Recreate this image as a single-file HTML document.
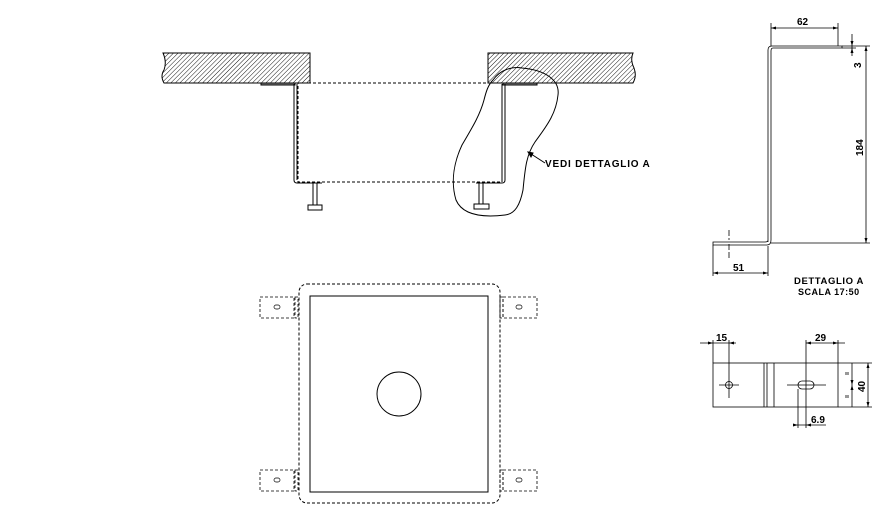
<!DOCTYPE html>
<html><head><meta charset="utf-8"><style>
html,body{margin:0;padding:0;background:#fff;}
svg{display:block;}
text{font-family:"Liberation Sans",sans-serif;font-weight:bold;fill:#000;}
</style></head><body>
<svg width="891" height="530" viewBox="0 0 891 530" xmlns="http://www.w3.org/2000/svg">
<defs>
<pattern id="h" width="3.2" height="3.2" patternUnits="userSpaceOnUse" patternTransform="rotate(45)">
<line x1="0" y1="0" x2="0" y2="3.2" stroke="#000" stroke-width="0.9"/>
</pattern>
</defs>
<g fill="none" stroke="#000" stroke-width="1">
<path d="M163,53 L310,53 L310,83 L164,83 Q160,76 164,70 Q167,62 163,53 Z" fill="url(#h)"/>
<path d="M488,53 L633,53 Q630,60 634,68 Q637,76 633,83 L488,83 Z" fill="url(#h)"/>
<rect x="261" y="83" width="34" height="2" fill="#888"/>
<rect x="503" y="83" width="34" height="2" fill="#888"/>
<rect x="298" y="83" width="204" height="99" stroke-dasharray="3,2"/>
<path d="M294,84 L294,180 Q294,183 297,183 L322,183 M297,84 L297,180"/>
<path d="M505,84 L505,180 Q505,183 502,183 L476,183 M502,84 L502,180"/>
<path d="M313,183 L313,205 M317,183 L317,205 M308,205 L322,205 L322,210 L308,210 Z"/>
<path d="M479,183 L479,204 M483,183 L483,204 M474,204 L489,204 L489,209 L474,209 Z"/>
<path d="M493,80 C500,70 512,66 522,68 C545,70 560,80 558,95 C556,115 545,128 535,142 C526,155 525,170 523,190 C520,205 515,214 505,215 C480,218 462,214 456,200 C450,180 455,160 462,145 C472,128 480,115 484,100 C486,92 488,85 493,80 Z"/>
<path d="M528,152 L545,163"/>
<path d="M528,152 L533,153 L531,157 Z" fill="#000"/>
</g>
<text x="545" y="167" font-size="10" letter-spacing="0.8">VEDI DETTAGLIO A</text>

<g fill="none" stroke="#000" stroke-width="0.8">
<path d="M768,242 L768,50 Q768,46 772,46 L842,46 L842,48 L773,48 Q771,48 771,51 L771,240 Q771,245 767,245 L713,245 L713,242 L765,242 Q768,242 768,240"/>
<path d="M771,46 L771,23 M838,46 L838,23 M771,28 L838,28"/>
<path d="M842,46 L870,46 M842,48 L856,48 M852,34 L852,56"/>
<path d="M771,243 L870,243 M866,46 L866,243"/>
<path d="M713,245 L713,276 M768,246 L768,276 M713,273 L768,273"/>
<path d="M729,230 L729,240 M729,244 L729,258" stroke-dasharray="6,2"/>
</g>
<g fill="#000">
<path d="M771,28 l5,-1.5 v3 Z M838,28 l-5,-1.5 v3 Z"/>
<path d="M866,46 l-1.5,5 h3 Z M866,243 l-1.5,-5 h3 Z"/>
<path d="M852,46 l-1.5,-5 h3 Z M852,48 l-1.5,5 h3 Z"/>
<path d="M713,273 l5,-1.5 v3 Z M768,273 l-5,-1.5 v3 Z"/>
</g>
<text x="797" y="25" font-size="10">62</text>
<text x="0" y="0" font-size="10" transform="translate(861,68) rotate(-90)">3</text>
<text x="0" y="0" font-size="10" transform="translate(863,156) rotate(-90)">184</text>
<text x="733" y="271" font-size="10">51</text>
<text x="794" y="284" font-size="9.5" letter-spacing="0.6">DETTAGLIO  A</text>
<text x="798" y="295" font-size="9" letter-spacing="0.5">SCALA  17:50</text>

<g fill="none" stroke="#000" stroke-width="0.8">
<rect x="713" y="363" width="125" height="44"/>
<path d="M764,363 L764,407 M767,363 L767,407 M774,363 L774,407"/>
<circle cx="729" cy="385" r="3.5"/>
<rect x="798" y="381" width="16" height="8" rx="4"/>
<path d="M719,385 L739,385 M729,340 L729,398 M787,385 L826,385 M806,340 L806,428"/>
<path d="M713,363 L713,340 M700,343 L736,343"/>
<path d="M838,363 L838,340 M806,343 L845,343"/>
<path d="M838,363 L872,363 M838,407 L872,407 M852,363 L852,407 M868,363 L868,407"/>
<path d="M798,389 L798,428 M796,425 L826,425"/>
<path d="M846,372 v3 M848,372 v3 M846,395 v3 M848,395 v3"/>
</g>
<g fill="#000">
<path d="M713,343 l-5,-1.5 v3 Z M729,343 l5,-1.5 v3 Z"/>
<path d="M806,343 l5,-1.5 v3 Z M838,343 l-5,-1.5 v3 Z"/>
<path d="M868,363 l-1.5,5 h3 Z M868,407 l-1.5,-5 h3 Z"/>
<path d="M852,385 l-1.5,-5 h3 Z M852,385 l-1.5,5 h3 Z"/>
<path d="M798,425 l-5,-1.5 v3 Z M806,425 l5,-1.5 v3 Z"/>
</g>
<text x="716" y="341" font-size="10">15</text>
<text x="815" y="341" font-size="10">29</text>
<text x="0" y="0" font-size="10" transform="translate(865,392) rotate(-90)">40</text>
<text x="811" y="423" font-size="10">6.9</text>

<g fill="none" stroke="#000" stroke-width="1">
<rect x="299" y="284" width="201" height="219" rx="8" stroke-dasharray="3,2"/>
<rect x="310" y="296" width="178" height="196"/>
<circle cx="399" cy="394" r="22"/>
<g stroke-dasharray="3,2" stroke-width="0.8">
<rect x="260" y="297" width="34" height="21"/><rect x="295" y="297" width="3" height="21"/>
<rect x="260" y="470" width="34" height="21"/><rect x="295" y="470" width="3" height="21"/>
<rect x="503" y="297" width="34" height="21"/><rect x="500" y="297" width="3" height="21"/>
<rect x="503" y="470" width="34" height="21"/><rect x="500" y="470" width="3" height="21"/>
</g>
<g stroke-width="0.7">
<rect x="274" y="305" width="6" height="4" rx="2"/>
<rect x="274" y="478" width="6" height="4" rx="2"/>
<rect x="516" y="305" width="6" height="4" rx="2"/>
<rect x="516" y="478" width="6" height="4" rx="2"/>
</g>
</g>
</svg>
</body></html>
